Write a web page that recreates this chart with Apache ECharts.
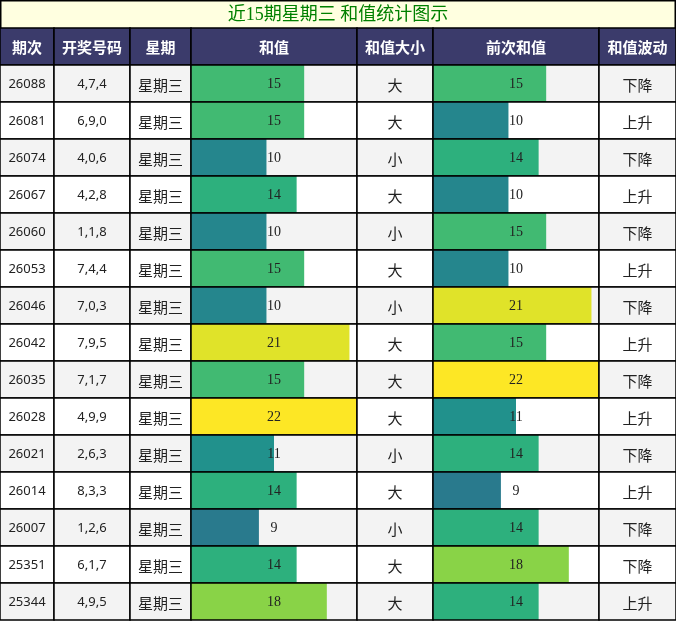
<!DOCTYPE html>
<html>
<head>
<meta charset="utf-8">
<script src="https://cdn.jsdelivr.net/npm/echarts@6/dist/echarts.min.js"></script>
<style>
  html, body { margin: 0; padding: 0; background: #fff; }
  #chart { width: 676px; height: 621px; }
</style>
</head>
<body>
<div id="chart"></div>
<script>
const title = "近15期星期三 和值统计图示";
const headers = ["期次", "开奖号码", "星期", "和值", "和值大小", "前次和值", "和值波动"];
const periods = ["26088", "26081", "26074", "26067", "26060", "26053", "26046", "26042", "26035", "26028", "26021", "26014", "26007", "25351", "25344"];
const draws = ["4,7,4", "6,9,0", "4,0,6", "4,2,8", "1,1,8", "7,4,4", "7,0,3", "7,9,5", "7,1,7", "4,9,9", "2,6,3", "8,3,3", "1,2,6", "6,1,7", "4,9,5"];
const weekdays = periods.map(() => "星期三");
const sums = [15, 15, 10, 14, 10, 15, 10, 21, 15, 22, 11, 14, 9, 14, 18];
const sizes = ["大", "大", "小", "大", "小", "大", "小", "大", "大", "大", "小", "大", "小", "大", "大"];
const prevSums = [15, 10, 14, 10, 15, 10, 21, 15, 22, 11, 14, 9, 14, 18, 14];
const trends = ["下降", "上升", "下降", "上升", "下降", "上升", "下降", "上升", "下降", "上升", "下降", "上升", "下降", "下降", "上升"];

const viridis = ["#440154", "#472d7b", "#3b528b", "#2c728e", "#21918c", "#28ae80", "#5ec962", "#addc30", "#fde725"];
const edges = [0, 54, 130, 191, 357, 433, 599, 676];
const titleH = 28, headTop = 28, dataTop = 65, dataBottom = 620;
const headBg = "#3b3b6b";
const barMax = Math.max(...sums, ...prevSums);

// dy nudges text so it sits like the reference
const columns = [
  { text: periods, font: "13px 'Noto Sans'", dy: 1 },
  { text: draws, font: "13px 'Noto Sans'", dy: 1 },
  { text: weekdays, font: "15px 'Noto Sans CJK SC'", dy: 2 },
  { bars: sums },
  { text: sizes, font: "15px 'Noto Sans CJK SC'", dy: 2 },
  { bars: prevSums },
  { text: trends, font: "15px 'Noto Sans CJK SC'", dy: 2 },
];

const chart = echarts.init(document.getElementById("chart"), null, { renderer: "canvas" });

const grids = [], xAxes = [], yAxes = [], series = [], barSeries = [];
columns.forEach((col, ci) => {
  grids.push({ left: edges[ci], width: edges[ci + 1] - edges[ci], top: dataTop, height: dataBottom - dataTop });
  const max = col.bars ? barMax : 1;
  xAxes.push({ gridIndex: ci, type: "value", min: 0, max, show: false });
  yAxes.push({ gridIndex: ci, type: "category", data: periods, inverse: true, show: false });
  if (col.bars) barSeries.push(ci);
  series.push({
    type: "custom",
    xAxisIndex: ci,
    yAxisIndex: ci,
    clip: false,
    data: periods.map((_, i) => [col.bars ? col.bars[i] : 0, i]),
    renderItem(params, api) {
      const row = api.value(1);
      const origin = api.coord([0, row]);
      const band = api.size([max, 1]);
      const x = origin[0], y = origin[1] - band[1] / 2, w = band[0], h = band[1];
      const children = [{
        type: "rect",
        shape: { x, y, width: w, height: h },
        style: { fill: row % 2 === 0 ? "#f3f3f3" : "#ffffff" },
      }];
      let label;
      if (col.bars) {
        const v = api.value(0);
        children.push({
          type: "rect",
          shape: { x, y, width: api.size([v, 0])[0], height: h },
          style: { fill: api.visual("color") },
        });
        label = { text: String(v), font: "14px 'Liberation Serif'", dy: 1 };
      } else {
        label = { text: col.text[params.dataIndex], font: col.font, dy: col.dy };
      }
      children.push({
        type: "text",
        style: {
          x: x + w / 2, y: y + h / 2 + label.dy, text: label.text, font: label.font,
          fill: "#222", align: "center", verticalAlign: "middle",
        },
      });
      children.push({
        type: "rect",
        shape: { x, y, width: w, height: h },
        style: { fill: null, stroke: "#000", lineWidth: 1.5 },
      });
      return { type: "group", children };
    },
  });
});

const graphic = [
  {
    type: "rect",
    shape: { x: 0.75, y: 0.75, width: 674.5, height: titleH },
    style: { fill: "#ffffe0", stroke: "#000", lineWidth: 1.5 },
  },
  {
    type: "text",
    style: {
      x: 338, y: 15, text: title, font: "18px 'Liberation Serif', 'Noto Sans CJK SC'",
      fill: "#008000", align: "center", verticalAlign: "middle",
    },
  },
];
headers.forEach((h, ci) => {
  graphic.push({
    type: "rect",
    shape: { x: edges[ci], y: headTop, width: edges[ci + 1] - edges[ci], height: dataTop - headTop },
    style: { fill: headBg, stroke: "#000", lineWidth: 1.5 },
  });
  graphic.push({
    type: "text",
    style: {
      x: (edges[ci] + edges[ci + 1]) / 2, y: (headTop + dataTop) / 2 + 1, text: h,
      font: "bold 15px 'Noto Sans CJK SC'", fill: "#ffffff", align: "center", verticalAlign: "middle",
    },
  });
});

chart.setOption({
  animation: false,
  backgroundColor: "#ffffff",
  grid: grids,
  xAxis: xAxes,
  yAxis: yAxes,
  visualMap: {
    show: false,
    type: "continuous",
    min: 0,
    max: barMax,
    dimension: 0,
    seriesIndex: barSeries,
    inRange: { color: viridis },
  },
  graphic,
  series,
});
</script>
</body>
</html>
